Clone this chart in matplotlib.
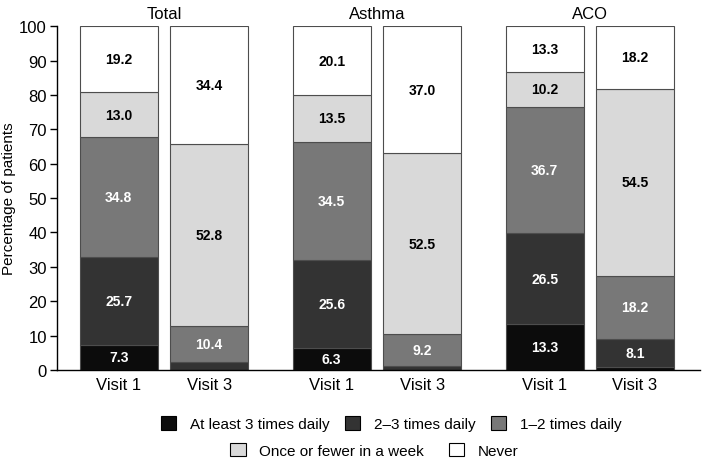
import numpy as np
import matplotlib.pyplot as plt
from matplotlib.patches import Patch

plt.rcParams['font.family'] = ['Liberation Sans', 'DejaVu Sans']

groups = ["Total", "Asthma", "ACO"]
visits = ["Visit 1", "Visit 3"]
categories = ["At least 3 times daily", "2\u20133 times daily", "1\u20132 times daily",
              "Once or fewer in a week", "Never"]
# one row per bar: Total V1, Total V3, Asthma V1, Asthma V3, ACO V1, ACO V3
values = np.array([
    [7.3, 25.7, 34.8, 13.0, 19.2],
    [0.0, 2.4, 10.4, 52.8, 34.4],
    [6.3, 25.6, 34.5, 13.5, 20.1],
    [0.0, 1.3, 9.2, 52.5, 37.0],
    [13.3, 26.5, 36.7, 10.2, 13.3],
    [1.0, 8.1, 18.2, 54.5, 18.2],
])
colors = ["#0c0c0c", "#333333", "#787878", "#d9d9d9", "#ffffff"]
text_colors = ["white", "white", "white", "black", "black"]

fig = plt.figure(figsize=(7.09, 4.6), dpi=100)
ax = fig.add_axes([0.080, 0.1935, 0.907, 0.7475])

# bar centres: group offset + visit offset
xs = []
for g in range(len(groups)):
    for v in range(len(visits)):
        xs.append(g * 2.73 + v * 1.16)
xs = np.array(xs)

bottom = np.zeros(len(xs))
for c in range(len(categories)):
    vals = values[:, c]
    ax.bar(xs, vals, width=1.0, bottom=bottom, color=colors[c],
           edgecolor="#4d4d4d", linewidth=0.8)
    for x, b, v in zip(xs, bottom, vals):
        if v >= 5:
            ax.text(x, b + v / 2, f"{v:.1f}", ha="center", va="center",
                    fontsize=10, fontweight="bold", color=text_colors[c])
    bottom += vals

for g, name in enumerate(groups):
    ax.text(g * 2.73 + 0.58, 101.5, name, ha="center", va="bottom", fontsize=12)

ax.set_xticks(xs)
ax.set_xticklabels(visits * len(groups), fontsize=12)
ax.tick_params(axis="x", length=0, pad=5)
ax.set_xlim(-0.795, 7.45)
ax.set_ylim(0, 100)
ax.set_yticks(np.arange(0, 101, 10))
ax.tick_params(axis="y", labelsize=12, length=5, width=1, direction="out", pad=2)
ax.set_ylabel("Percentage of patients", fontsize=11)
ax.yaxis.set_label_coords(-0.064, 0.5)
ax.spines["top"].set_visible(False)
ax.spines["right"].set_visible(False)
ax.spines["left"].set_linewidth(1)
ax.spines["bottom"].set_linewidth(1)

handles = [Patch(facecolor=colors[i], edgecolor="black", linewidth=0.8, label=categories[i])
           for i in range(len(categories))]
leg1 = fig.legend(handles=handles[:3], loc="center", bbox_to_anchor=(0.552, 0.077),
                  ncol=3, frameon=False, fontsize=11, handlelength=1.0, handleheight=1.0,
                  columnspacing=1.0, handletextpad=0.9)
leg2 = fig.legend(handles=handles[3:], loc="center", bbox_to_anchor=(0.528, 0.019),
                  ncol=2, frameon=False, fontsize=11, handlelength=1.0, handleheight=1.0,
                  columnspacing=1.6, handletextpad=0.9)

fig.savefig("out.png", dpi=100)
